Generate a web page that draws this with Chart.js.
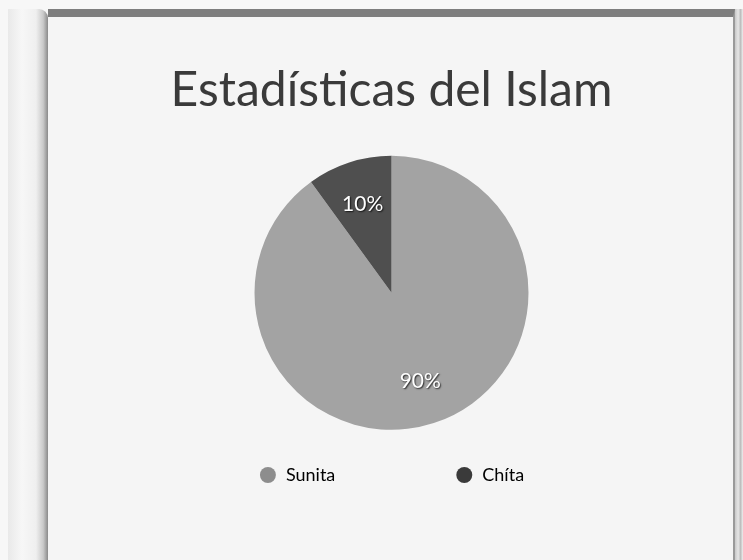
<!DOCTYPE html>
<html>
<head>
<meta charset="utf-8">
<script src="https://cdn.jsdelivr.net/npm/chart.js@4"></script>
<style>
  html, body { margin: 0; padding: 0; width: 743px; height: 560px; overflow: hidden; background: #f7f7f7; }
  #gutter { position: absolute; left: 8px; top: 9px; width: 40px; height: 551px;
    background: linear-gradient(to right, #e9e9e9 0%, #f7f7f7 35%, #efefef 70%, #c9c9c9 88%, #8a8a8a 100%);
    border-top-right-radius: 9px; }
  #page { position: absolute; left: 48px; top: 9px; width: 685px; height: 546px;
    background: #f5f5f5; border-top: 8px solid #7e7e7e; border-bottom: 2px solid #5a5a5a; border-right: 2px solid #9a9a9a;
    box-sizing: content-box; }
  #edge { position: absolute; left: 735px; top: 9px; width: 8px; height: 551px;
    background: linear-gradient(to right, #c8c8c8, #e6e6e6 40%, #bdbdbd 70%, #efefef); }
  #wrap { position: absolute; left: 48px; top: 0px; width: 687px; height: 560px; }
</style>
</head>
<body>
<div id="gutter"></div>
<div id="page"></div>
<div id="edge"></div>
<div id="wrap"><canvas id="c" width="687" height="560"></canvas></div>
<script>
const titleText = "Estadísticas del Islam";
const categories = ["Sunita", "Chíta"];
const values = [90, 10];
const sliceColors = ["#a3a3a3", "#4f4f4f"];
const legendColors = ["#8d8d8d", "#3a3a3a"];

const pctLabels = {
  id: 'pctLabels',
  afterDatasetsDraw(chart) {
    const ctx = chart.ctx;
    const meta = chart.getDatasetMeta(0);
    const data = chart.data.datasets[0].data;
    const total = data.reduce((a, b) => a + b, 0);
    ctx.save();
    ctx.font = '21px Lato';
    ctx.textAlign = 'center';
    ctx.textBaseline = 'middle';
    meta.data.forEach((arc, i) => {
      const p = arc.getProps(['x', 'y', 'startAngle', 'endAngle', 'outerRadius'], true);
      const mid = (p.startAngle + p.endAngle) / 2;
      const r = p.outerRadius * 0.68;
      const tx = p.x + Math.cos(mid) * r;
      const ty = p.y + Math.sin(mid) * r;
      ctx.shadowColor = 'rgba(0,0,0,0.75)';
      ctx.shadowOffsetX = 1;
      ctx.shadowOffsetY = 1;
      ctx.shadowBlur = 1.5;
      ctx.fillStyle = '#ffffff';
      ctx.fillText(Math.round(data[i] / total * 100) + '%', tx, ty);
    });
    ctx.restore();
  }
};

new Chart(document.getElementById('c'), {
  type: 'pie',
  data: {
    labels: categories,
    datasets: [{
      data: values,
      backgroundColor: sliceColors,
      borderWidth: 0,
      radius: 137,
      clip: false
    }]
  },
  plugins: [pctLabels],
  options: {
    responsive: false,
    animation: false,
    layout: { padding: { top: 0, bottom: 66, left: 0, right: 0 } },
    plugins: {
      tooltip: { enabled: false },
      title: {
        display: true,
        text: titleText,
        color: '#3a3a3a',
        font: { family: 'Lato', size: 48, weight: 'normal', lineHeight: 1.2 },
        padding: { top: 62, bottom: 120 }
      },
      legend: {
        display: true,
        position: 'bottom',
        labels: {
          usePointStyle: true,
          pointStyle: 'circle',
          boxWidth: 18,
          boxHeight: 11.3,
          padding: 120,
          color: '#444444',
          font: { family: 'Lato', size: 18 },
          generateLabels(chart) {
            return chart.data.labels.map((l, i) => ({
              text: l,
              fillStyle: legendColors[i],
              strokeStyle: legendColors[i],
              lineWidth: 0,
              pointStyle: 'circle',
              hidden: false,
              index: i
            }));
          }
        }
      }
    }
  }
});
</script>
</body>
</html>
